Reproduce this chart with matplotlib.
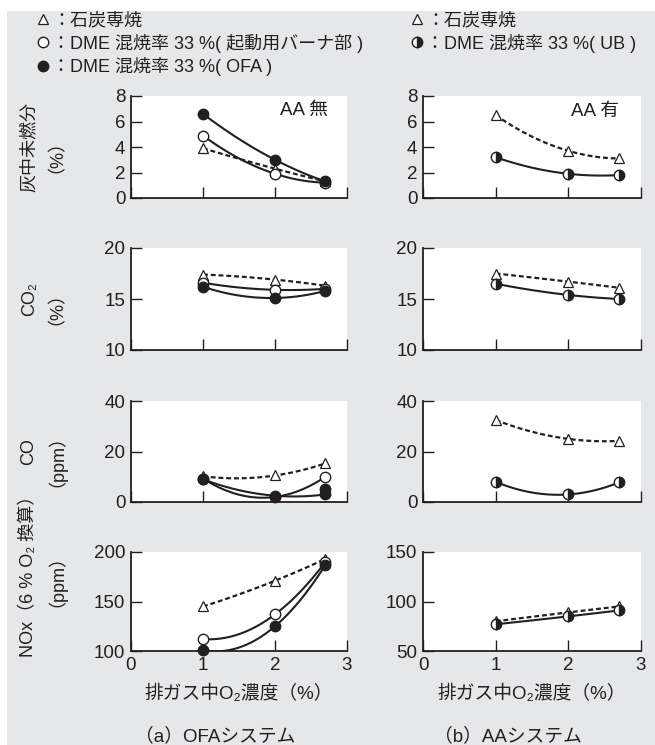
import numpy as np
import matplotlib
matplotlib.use('Agg')
import matplotlib.pyplot as plt
from matplotlib.lines import Line2D
from matplotlib.patches import Rectangle

plt.rcParams['font.family'] = ['Liberation Sans', 'Noto Sans CJK JP', 'DejaVu Sans']

INK = '#231f20'
GRAY = '#e6e7e8'

# O2 concentration in exhaust gas (%)
o2 = [1.0, 2.0, 2.7]

# (a) OFA system
ofa_ash_coal = [3.9, 2.3, 1.3]
ofa_ash_burner = [4.9, 1.9, 1.2]
ofa_ash_ofa = [6.6, 3.0, 1.3]

ofa_co2_coal = [17.4, 16.9, 16.3]
ofa_co2_burner = [16.6, 15.9, 16.0]
ofa_co2_ofa = [16.2, 15.1, 15.8]

ofa_co_coal = [10.2, 10.5, 15.3]
ofa_co_burner = [9.3, 2.0, 10.0]
ofa_co_ofa = [9.0, 2.5, 3.0]
ofa_co_ofa_extra_x = [2.7]
ofa_co_ofa_extra = [5.0]

ofa_nox_coal = [145, 171, 193]
ofa_nox_burner = [112, 137, 190]
ofa_nox_ofa = [101, 125, 187]

# (b) AA system
aa_ash_coal = [6.5, 3.7, 3.1]
aa_ash_ub = [3.2, 1.9, 1.8]

aa_co2_coal = [17.5, 16.7, 16.1]
aa_co2_ub = [16.5, 15.4, 15.0]

aa_co_coal = [32.5, 25.0, 24.2]
aa_co_ub = [8.0, 3.0, 7.8]

aa_nox_coal = [80, 89, 95]
aa_nox_ub = [77, 85, 91]

ylims_l = [(0, 8), (10, 20), (0, 40), (100, 200)]
ylims_r = [(0, 8), (10, 20), (0, 40), (50, 150)]
yticks_l = [[0, 2, 4, 6, 8], [10, 15, 20], [0, 20, 40], [100, 150, 200]]
yticks_r = [[0, 2, 4, 6, 8], [10, 15, 20], [0, 20, 40], [50, 100, 150]]
ylabels = ['灰中未燃分\n（%）', 'CO₂\n（%）', 'CO\n（ppm）', 'NOx（6 % O₂ 換算）\n（ppm）']
ylabel_y = [0.5, 0.5, 0.5, 0.8]

STYLE = {
    'coal': dict(marker='^', mfc='white', mec=INK, ms=7, mew=0.9),
    'burner': dict(marker='o', mfc='white', mec=INK, ms=7.5, mew=1.0),
    'ofa': dict(marker='o', mfc=INK, mec=INK, ms=7.5, mew=1.0),
    'ub': dict(marker='o', fillstyle='right', mfc=INK, markerfacecoloralt='white', mec=INK, ms=7.5, mew=1.0),
}


def smooth(x, y):
	# drawn connecting curve through the three measured points
	c = np.polyfit(x, y, 2)
	xs = np.linspace(x[0], x[-1], 60)
	return xs, np.polyval(c, xs)


def plot_series(axe, y, kind):
	xs, ys = smooth(o2, y)
	if kind == 'coal':
		axe.plot(xs, ys, color=INK, lw=1.6, ls=(0, (2.2, 1.3)), zorder=2)
	else:
		axe.plot(xs, ys, color=INK, lw=1.5, zorder=2)
	axe.plot(o2, y, ls='none', zorder=3, clip_on=False, **STYLE[kind])


def style_axes(axe, ylim, ticks, bottom_row):
	axe.set_facecolor('white')
	axe.set_xlim(0, 3)
	axe.set_ylim(*ylim)
	axe.set_yticks(ticks)
	axe.set_xticks([0, 1, 2, 3])
	for s in ['top', 'right']:
		axe.spines[s].set_visible(False)
	for s in ['left', 'bottom']:
		axe.spines[s].set_linewidth(1.3)
		axe.spines[s].set_color(INK)
	axe.tick_params(direction='in', length=8, width=1.0, color=INK, labelcolor=INK, labelsize=13.5)
	axe.tick_params(axis='y', pad=4)
	axe.tick_params(axis='x', pad=4, labelbottom=bottom_row)


fig = plt.figure(figsize=(6.55, 7.45), dpi=100)
fig.patches.append(Rectangle((7 / 655, 0), 1, 1 - 11 / 745, transform=fig.transFigure,
                             facecolor=GRAY, edgecolor='none', zorder=-10))

rows_px = [(96, 198), (248, 350), (401, 502), (552, 651)]
cols_px = [(131, 216), (423, 218)]

axes = []
for r, (top, bot) in enumerate(rows_px):
	row = []
	for c, (left, w) in enumerate(cols_px):
		axe = fig.add_axes([left / 655, 1 - bot / 745, w / 655, (bot - top) / 745])
		row.append(axe)
	axes.append(row)

ofa_data = [
	[(ofa_ash_coal, 'coal'), (ofa_ash_burner, 'burner'), (ofa_ash_ofa, 'ofa')],
	[(ofa_co2_coal, 'coal'), (ofa_co2_burner, 'burner'), (ofa_co2_ofa, 'ofa')],
	[(ofa_co_coal, 'coal'), (ofa_co_burner, 'burner'), (ofa_co_ofa, 'ofa')],
	[(ofa_nox_coal, 'coal'), (ofa_nox_burner, 'burner'), (ofa_nox_ofa, 'ofa')],
]
aa_data = [
	[(aa_ash_coal, 'coal'), (aa_ash_ub, 'ub')],
	[(aa_co2_coal, 'coal'), (aa_co2_ub, 'ub')],
	[(aa_co_coal, 'coal'), (aa_co_ub, 'ub')],
	[(aa_nox_coal, 'coal'), (aa_nox_ub, 'ub')],
]

for r in range(4):
	for y, kind in ofa_data[r]:
		plot_series(axes[r][0], y, kind)
	for y, kind in aa_data[r]:
		plot_series(axes[r][1], y, kind)

axes[2][0].plot(ofa_co_ofa_extra_x, ofa_co_ofa_extra, ls='none', zorder=3, clip_on=False, **STYLE['ofa'])

for r in range(4):
	style_axes(axes[r][0], ylims_l[r], yticks_l[r], r == 3)
	style_axes(axes[r][1], ylims_r[r], yticks_r[r], r == 3)

for r in range(4):
	axes[r][0].text(-0.43, ylabel_y[r], ylabels[r], transform=axes[r][0].transAxes, rotation=90,
	                ha='center', va='center', multialignment='center', fontsize=13, color=INK,
	                linespacing=1.0)

axes[0][0].text(0.91, 0.86, 'AA 無', transform=axes[0][0].transAxes, ha='right', va='center',
                fontsize=13.5, color=INK)
axes[0][1].text(0.90, 0.85, 'AA 有', transform=axes[0][1].transAxes, ha='right', va='center',
                fontsize=13.5, color=INK)

for c, cap in enumerate(['（a）OFAシステム', '（b）AAシステム']):
	axe = axes[3][c]
	axe.text(0.5, -0.43, '排ガス中O₂濃度（%）', transform=axe.transAxes, ha='center', va='center',
	         fontsize=13.5, color=INK)
	axe.text(0.39, -0.86, cap, transform=axe.transAxes, ha='center', va='center',
	         fontsize=13.5, color=INK)

h_coal = Line2D([], [], ls='none', **STYLE['coal'])
h_burner = Line2D([], [], ls='none', **STYLE['burner'])
h_ofa = Line2D([], [], ls='none', **STYLE['ofa'])
h_ub = Line2D([], [], ls='none', **STYLE['ub'])

fig.legend([h_coal, h_burner, h_ofa],
           ['：石炭専焼', '：DME 混焼率 33 %( 起動用バーナ部 )', '：DME 混焼率 33 %( OFA )'],
           loc='upper left', bbox_to_anchor=(36 / 655, 1 - 12 / 745), frameon=False,
           fontsize=13, handlelength=0.8, handletextpad=0.1, labelspacing=0.25,
           borderpad=0, borderaxespad=0, labelcolor=INK)
fig.legend([h_coal, h_ub],
           ['：石炭専焼', '：DME 混焼率 33 %( UB )'],
           loc='upper left', bbox_to_anchor=(410 / 655, 1 - 12 / 745), frameon=False,
           fontsize=13, handlelength=0.8, handletextpad=0.1, labelspacing=0.25,
           borderpad=0, borderaxespad=0, labelcolor=INK)

plt.savefig('out.png', dpi=100, facecolor='white')
